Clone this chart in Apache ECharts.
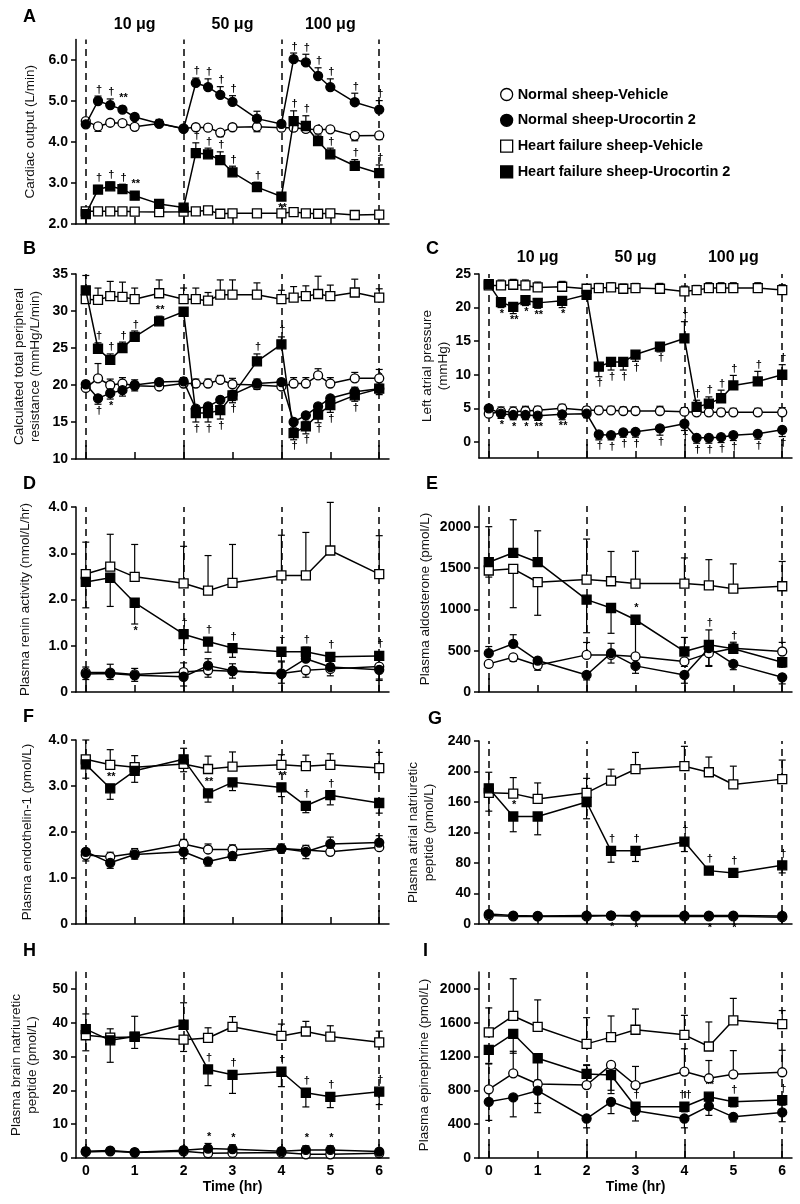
<!DOCTYPE html>
<html><head><meta charset="utf-8">
<script src="https://cdn.jsdelivr.net/npm/echarts@6/dist/echarts.min.js"></script>
<style>html,body{margin:0;padding:0;background:#fff}#c{width:800px;height:1204px}</style>
</head><body><div id="c"></div>
<script>
// ---------- DATA ----------
const NAMES = ['Normal sheep-Vehicle','Normal sheep-Urocortin 2','Heart failure sheep-Vehicle','Heart failure sheep-Urocortin 2'];
const tA = [0,0.25,0.5,0.75,1,1.5,2,2.25,2.5,2.75,3,3.5,4,4.25,4.5,4.75,5,5.5,6];
const tH = [0,0.5,1,2,2.5,3,4,4.5,5,6];
const X_TICKS = [0,1,2,3,4,5,6];
const DASH_TIMES = [0,2,4,6];
const DOSE_POS = [1,3,5];
const DOSE_LABELS = ['10 \u03bcg','50 \u03bcg','100 \u03bcg'];

// A: Cardiac output
const A_NV = [4.51,4.38,4.47,4.46,4.37,4.45,4.33,4.36,4.35,4.23,4.36,4.37,4.35,4.35,4.32,4.30,4.31,4.15,4.16];
const A_NV_err = [-0.08,-0.12,-0.05,-0.05,-0.05,-0.05,-0.05,-0.05,-0.05,-0.1,-0.05,-0.12,-0.08,-0.08,-0.08,-0.08,-0.05,-0.12,-0.1];
const A_NV_sig = [];
const A_NU = [4.43,5.00,4.90,4.79,4.61,4.45,4.32,5.44,5.34,5.15,4.98,4.57,4.44,6.02,5.94,5.61,5.34,4.97,4.79];
const A_NU_err = [0.05,0.12,0.15,0.08,0.05,0.1,0.05,0.12,0.2,0.2,0.15,0.18,0.05,0.15,0.2,0.2,0.2,0.22,0.22];
const A_NU_sig = ['','\u2020','\u2020','**','','','','\u2020','\u2020','\u2020','\u2020','','','\u2020','\u2020','\u2020','\u2020','\u2020','\u2020'];
const A_HV = [2.31,2.31,2.31,2.31,2.30,2.29,2.30,2.31,2.33,2.25,2.26,2.26,2.26,2.29,2.26,2.25,2.26,2.22,2.23];
const A_HV_err = [-0.06,-0.06,-0.06,-0.06,-0.06,-0.06,-0.06,-0.06,-0.06,-0.06,-0.06,-0.06,-0.06,-0.06,-0.06,-0.06,-0.06,-0.06,-0.06];
const A_HV_sig = [];
const A_HU = [2.24,2.84,2.92,2.85,2.69,2.49,2.40,3.73,3.70,3.56,3.26,2.90,2.67,4.51,4.39,4.02,3.70,3.42,3.24];
const A_HU_err = [0.05,0.1,0.1,0.12,0.1,0.05,0.05,0.25,0.15,0.2,0.15,0.12,-0.05,0.25,0.25,0.15,0.15,0.15,0.2];
const A_HU_sig = ['','\u2020','\u2020','\u2020','**','','','\u2020','\u2020','\u2020','\u2020','\u2020','**','\u2020','\u2020','\u2020','\u2020','\u2020','\u2020'];
const A_yTicks = [2,3,4,5,6];

// B: Total peripheral resistance
const B_NV = [19.6,20.9,20.0,20.2,19.9,19.8,20.2,20.2,20.2,20.7,20.1,20.0,19.8,20.2,20.2,21.3,20.2,20.9,20.9];
const B_NV_err = [0.6,2.0,0.8,0.8,0.8,0.8,0.8,0.6,0.6,0.6,0.8,0.8,0.8,0.8,0.8,0.9,0.8,0.8,1.2];
const B_NV_sig = [];
const B_NU = [20.1,18.2,18.9,19.3,20.0,20.4,20.5,16.8,17.1,18.0,18.7,20.2,20.4,15.0,15.9,17.1,18.2,19.1,19.5];
const B_NU_err = [-0.8,-0.8,-0.8,-0.8,-0.8,-0.6,-0.6,-0.8,-0.8,-0.8,-0.8,-0.8,-0.6,-0.8,-0.8,-0.8,-0.8,0.6,0.6];
const B_NU_sig = ['','\u2020','*','','','','','','','','','','','','','','','**','*'];
const B_HV = [31.6,31.5,32.0,31.9,31.6,32.4,31.6,31.6,31.4,32.2,32.2,32.2,31.6,31.8,32.0,32.3,32.0,32.5,31.8];
const B_HV_err = [1.5,1.6,2.0,2.0,1.5,1.8,1.5,1.5,1.1,2.0,2.0,1.6,1.2,1.5,1.4,2.4,1.5,1.8,1.2];
const B_HV_sig = [];
const B_HU = [32.8,24.9,23.4,25.0,26.5,28.6,29.9,16.2,16.2,16.6,18.6,23.2,25.5,13.5,14.4,16.0,17.3,18.6,19.5];
const B_HU_err = [2.0,0.8,0.8,0.8,0.8,0.7,0.5,-1.2,-1.2,-1.2,-1.0,1.0,1.0,-0.9,-1.0,-1.1,-1.0,-0.8,-0.8];
const B_HU_sig = ['','\u2020','\u2020','\u2020','\u2020','**','','\u2020','\u2020','\u2020','\u2020','\u2020','\u2020','\u2020','\u2020','\u2020','\u2020','\u2020',''];
const B_yTicks = [10,15,20,25,30,35];

// C: Left atrial pressure
const C_NV = [4.2,4.5,4.5,4.6,4.7,5.0,4.7,4.7,4.7,4.6,4.6,4.6,4.5,4.4,4.4,4.4,4.4,4.4,4.4];
const C_NV_err = [0.8,0.7,0.7,0.7,0.6,0.6,0.5,0.6,0.6,0.6,0.6,0.7,0.6,0.7,0.6,0.6,0.6,0.6,0.7];
const C_NV_sig = [];
const C_NU = [5.0,4.2,4.0,4.0,3.9,4.1,4.2,1.1,1.0,1.4,1.5,2.0,2.7,0.6,0.6,0.7,1.0,1.2,1.8];
const C_NU_err = [-0.8,-0.7,-0.7,-0.7,-0.7,-0.8,-0.6,-0.8,-0.7,-0.7,-0.8,-1.0,-1.0,-0.8,-0.8,-0.8,-0.8,-0.8,-1.0];
const C_NU_sig = ['','*','*','*','**','**','','\u2020','\u2020','\u2020','\u2020','\u2020','\u2020','\u2020','\u2020','\u2020','\u2020','\u2020','\u2020'];
const C_HV = [23.3,23.3,23.4,23.3,23.0,23.1,22.8,22.9,23.0,22.8,22.9,22.8,22.4,22.6,22.9,22.9,22.9,22.9,22.6];
const C_HV_err = [0.8,0.8,0.8,0.8,0.8,0.8,0.6,0.7,0.7,0.7,0.7,0.8,0.8,0.7,0.8,0.8,0.8,0.8,0.8];
const C_HV_sig = [];
const C_HU = [23.5,20.8,20.1,21.1,20.7,21.0,21.9,11.2,11.9,11.9,13.0,14.2,15.4,5.2,5.7,6.5,8.4,9.0,10.0];
const C_HU_err = [-0.8,-0.8,-1.0,-0.8,-0.8,-1.0,-0.5,-1.5,-1.2,-1.2,-1.0,-0.8,2.5,1.0,1.0,1.2,1.5,1.5,1.5];
const C_HU_sig = ['','*','**','*','**','*','','\u2020','\u2020','\u2020','\u2020','\u2020','\u2020','\u2020','\u2020','\u2020','\u2020','\u2020','\u2020'];
const C_yTicks = [0,5,10,15,20,25];

// D: Plasma renin activity
const D_NV = [0.42,0.42,0.38,0.43,0.47,0.45,0.40,0.47,0.50,0.55];
const D_NV_err = [-0.15,-0.15,-0.15,0.2,-0.15,-0.15,0.25,-0.15,-0.15,-0.3];
const D_NV_sig = [];
const D_NU = [0.39,0.40,0.36,0.33,0.57,0.46,0.39,0.72,0.54,0.48];
const D_NU_err = [0.15,0.2,0.15,-0.2,0.15,0.15,-0.2,0.25,0.15,-0.2];
const D_NU_sig = [];
const D_HV = [2.55,2.71,2.49,2.35,2.19,2.36,2.52,2.52,3.06,2.55];
const D_HV_err = [0.69,0.70,0.70,0.80,0.76,0.83,0.87,0.93,1.04,0.83];
const D_HV_sig = [];
const D_HU = [2.38,2.47,1.93,1.25,1.09,0.95,0.87,0.87,0.76,0.78];
const D_HU_err = [-0.56,-0.62,-0.46,-0.33,-0.23,-0.2,-0.2,-0.2,-0.15,-0.2];
const D_HU_sig = ['','','*','^\u2020','^\u2020','^\u2020','^\u2020','^\u2020','^\u2020','^\u2020'];
const D_yTicks = [0,1,2,3,4];

// E: Plasma aldosterone
const E_NV = [340,420,323,449,449,430,370,470,530,490];
const E_NV_err = [-40,-50,-60,150,140,-80,-60,-150,50,110];
const E_NV_sig = [];
const E_NU = [470,583,380,206,470,316,206,530,340,178];
const E_NU_err = [80,110,-60,-60,-120,-90,-100,-220,-70,-80];
const E_NU_sig = [];
const E_HV = [1470,1490,1328,1360,1340,1312,1312,1291,1250,1279];
const E_HV_err = [-80,-470,-400,490,360,390,310,310,300,300];
const E_HV_sig = [];
const E_HU = [1570,1684,1570,1117,1016,874,490,571,522,360];
const E_HU_err = [430,400,380,-400,-306,-420,170,180,80,-60];
const E_HU_sig = ['','','','','','^*','','\u2020','\u2020',''];
const E_yTicks = [0,500,1000,1500,2000];

// F: Plasma endothelin-1
const F_NV = [1.50,1.46,1.54,1.74,1.62,1.62,1.64,1.61,1.57,1.67];
const F_NV_err = [0.12,0.1,0.1,0.1,0.12,0.1,0.1,0.1,0.1,0.1];
const F_NV_sig = [];
const F_NU = [1.57,1.33,1.51,1.57,1.36,1.48,1.64,1.57,1.74,1.77];
const F_NU_err = [-0.2,-0.12,-0.1,-0.15,-0.1,-0.1,-0.1,-0.15,0.15,0.15];
const F_NU_sig = [];
const F_HV = [3.58,3.46,3.41,3.48,3.37,3.42,3.46,3.43,3.46,3.39];
const F_HV_err = [0.42,0.33,0.25,0.34,0.28,0.32,0.22,0.24,0.24,0.34];
const F_HV_sig = [];
const F_HU = [3.47,2.95,3.33,3.58,2.84,3.08,2.97,2.57,2.80,2.63];
const F_HU_err = [-0.30,-0.24,-0.25,-0.27,-0.19,-0.18,-0.2,-0.15,-0.21,-0.22];
const F_HU_sig = ['','^**','','','^**','^*','^**','^\u2020','^\u2020',''];
const F_yTicks = [0,1,2,3,4];

// G: Plasma ANP
const G_NV = [11,10,10,10,11,10,10,10,10,9];
const G_NV_err = [-3,-3,-3,-3,-4,-4,-3,-4,-4,-3];
const G_NV_sig = ['','','','','*','*','','*','*',''];
const G_NU = [13,11,10.5,11,11,11,11,11,11,10.5];
const G_NU_err = [3,2,2,2,2,2,2,2,2,2];
const G_NU_sig = [];
const G_HV = [172,171,164,172,188,203,207,199,183,190];
const G_HV_err = [-24,21,21,19,15,22,26,20,24,25];
const G_HV_sig = [];
const G_HU = [178,141,141,160,96,96,108,70,67,77];
const G_HU_err = [21,-20,-24,-22,-15,-14,-13,-5,-5,-10];
const G_HU_sig = ['','^*','','','^\u2020','^\u2020','^\u2020','^\u2020','^\u2020','^\u2020'];
const G_yTicks = [0,40,80,120,160,200,240];

// H: Plasma BNP
const H_NV = [1.8,2.0,1.6,2.0,1.4,1.5,1.6,1.1,1.1,1.4];
const H_NV_err = [-0.6,-0.5,-0.5,-0.5,-0.5,-0.5,-0.5,-0.5,-0.5,-0.5];
const H_NV_sig = [];
const H_NU = [2.0,2.2,1.7,2.3,2.8,2.6,2.0,2.4,2.4,1.9];
const H_NU_err = [1.0,0.8,0.8,1.0,1.5,1.3,1.0,1.2,1.2,0.8];
const H_NU_sig = ['','','','','*','*','','*','*',''];
const H_HV = [36.3,35.6,35.8,35.0,35.5,38.8,36.1,37.4,35.9,34.2];
const H_HV_err = [-4.6,2.6,-3.4,-3.5,3.0,3.0,3.5,3.0,3.2,3.3];
const H_HV_sig = [];
const H_HU = [38.1,34.8,35.9,39.4,26.2,24.6,25.5,19.3,18.1,19.6];
const H_HU_err = [4.5,-6.5,6.0,6.5,-4.8,-5.5,-4.4,-4.2,-3.2,-3.8];
const H_HU_sig = ['','','','','^\u2020','^\u2020','^\u2020','^\u2020','^\u2020','^\u2020'];
const H_yTicks = [0,10,20,30,40,50];

// I: Plasma epinephrine
const I_NV = [812,1002,875,863,1101,863,1022,943,990,1014];
const I_NV_err = [300,260,-230,240,-300,220,270,210,280,260];
const I_NV_sig = [];
const I_NU = [665,717,796,467,665,558,467,614,487,539];
const I_NU_err = [-220,-230,-260,-110,-140,-120,-110,-110,-60,-110];
const I_NU_sig = [];
const I_HV = [1485,1680,1550,1350,1430,1517,1457,1319,1628,1584];
const I_HV_err = [290,440,320,310,250,245,230,290,260,160];
const I_HV_sig = [];
const I_HU = [1279,1469,1180,994,982,606,606,725,665,685];
const I_HU_err = [-160,-230,-260,100,-220,-60,-60,-60,-60,-60];
const I_HU_sig = ['','','','','','^\u2020','^\u2020\u2020','^**','^\u2020','^\u2020'];
const I_yTicks = [0,400,800,1200,1600,2000];

// ---------- LAYOUT ----------
const FONT = '"Liberation Sans", Arial, Helvetica, sans-serif';
const panels = [
  {L:'A', lx:30, ly:18, grid:{left:76,top:39.5,width:313,height:184.5}, t:tA, yMin:2, yMax:6.5, ticks:A_yTicks, dec:1,
   name:'Cardiac output (L/min)', gap:38, dose:true, doseMargin:7, xl:false,
   d:[[A_NV,A_NV_err,A_NV_sig],[A_NU,A_NU_err,A_NU_sig],[A_HV,A_HV_err,A_HV_sig],[A_HU,A_HU_err,A_HU_sig]]},
  {L:'B', lx:30, ly:250, grid:{left:76,top:274,width:313,height:185}, t:tA, yMin:10, yMax:35, ticks:B_yTicks, dec:0,
   name:'Calculated total peripheral\nresistance (mmHg/L/min)', gap:33, dose:false, xl:false,
   d:[[B_NV,B_NV_err,B_NV_sig],[B_NU,B_NU_err,B_NU_sig],[B_HV,B_HV_err,B_HV_sig],[B_HU,B_HU_err,B_HU_sig]]},
  {L:'C', lx:433, ly:250, grid:{left:479,top:274,width:313,height:184}, t:tA, yMin:-2.4, yMax:25, ticks:C_yTicks, dec:0,
   name:'Left atrial pressure\n(mmHg)', gap:27, dose:true, doseMargin:8, xl:false,
   d:[[C_NV,C_NV_err,C_NV_sig],[C_NU,C_NU_err,C_NU_sig],[C_HV,C_HV_err,C_HV_sig],[C_HU,C_HU_err,C_HU_sig]]},
  {L:'D', lx:30, ly:485, grid:{left:76,top:507,width:313,height:185}, t:tH, yMin:0, yMax:4, ticks:D_yTicks, dec:1,
   name:'Plasma renin activity (nmol/L/hr)', gap:43, dose:false, xl:false,
   d:[[D_NV,D_NV_err,D_NV_sig],[D_NU,D_NU_err,D_NU_sig],[D_HV,D_HV_err,D_HV_sig],[D_HU,D_HU_err,D_HU_sig]]},
  {L:'E', lx:433, ly:485, grid:{left:479,top:506,width:313,height:186}, t:tH, yMin:0, yMax:2250, ticks:E_yTicks, dec:0,
   name:'Plasma aldosterone (pmol/L)', gap:46, dose:false, xl:false,
   d:[[E_NV,E_NV_err,E_NV_sig],[E_NU,E_NU_err,E_NU_sig],[E_HV,E_HV_err,E_HV_sig],[E_HU,E_HU_err,E_HU_sig]]},
  {L:'F', lx:30, ly:718, grid:{left:76,top:740,width:313,height:184}, t:tH, yMin:0, yMax:4, ticks:F_yTicks, dec:1,
   name:'Plasma endothelin-1 (pmol/L)', gap:41, dose:false, xl:false,
   d:[[F_NV,F_NV_err,F_NV_sig],[F_NU,F_NU_err,F_NU_sig],[F_HV,F_HV_err,F_HV_sig],[F_HU,F_HU_err,F_HU_sig]]},
  {L:'G', lx:435, ly:720, grid:{left:479,top:741,width:313,height:183}, t:tH, yMin:0, yMax:240, ticks:G_yTicks, dec:0,
   name:'Plasma atrial natriuretic\npeptide (pmol/L)', gap:42, dose:false, xl:false,
   d:[[G_NV,G_NV_err,G_NV_sig],[G_NU,G_NU_err,G_NU_sig],[G_HV,G_HV_err,G_HV_sig],[G_HU,G_HU_err,G_HU_sig]]},
  {L:'H', lx:30, ly:952, grid:{left:76,top:972,width:313,height:186}, t:tH, yMin:0, yMax:55, ticks:H_yTicks, dec:0,
   name:'Plasma brain natriuretic\npeptide (pmol/L)', gap:36, dose:false, xl:true,
   d:[[H_NV,H_NV_err,H_NV_sig],[H_NU,H_NU_err,H_NU_sig],[H_HV,H_HV_err,H_HV_sig],[H_HU,H_HU_err,H_HU_sig]]},
  {L:'I', lx:430, ly:952, grid:{left:479,top:972,width:313,height:186}, t:tH, yMin:0, yMax:2200, ticks:I_yTicks, dec:0,
   name:'Plasma epinephrine (pmol/L)', gap:47, dose:false, xl:true,
   d:[[I_NV,I_NV_err,I_NV_sig],[I_NU,I_NU_err,I_NU_sig],[I_HV,I_HV_err,I_HV_sig],[I_HU,I_HU_err,I_HU_sig]]}
];
const STY = [{symbol:'circle', fill:'#fff'},{symbol:'circle', fill:'#000'},{symbol:'rect', fill:'#fff'},{symbol:'rect', fill:'#000'}];
const BLACK = '#000';

function makeErr(sig){
  return function(params, api){
    const x = api.value(0), y = api.value(1), e = api.value(2);
    const p0 = api.coord([x, y]);
    const p1 = api.coord([x, y + e]);
    const ch = [];
    if (e) {
      ch.push({type:'line', shape:{x1:p0[0],y1:p0[1],x2:p1[0],y2:p1[1]}, style:{stroke:BLACK, lineWidth:1.2}});
      ch.push({type:'line', shape:{x1:p1[0]-3.5,y1:p1[1],x2:p1[0]+3.5,y2:p1[1]}, style:{stroke:BLACK, lineWidth:1.2}});
    }
    let s = sig[params.dataIndex] || '';
    if (s) {
      let up, yy;
      if (s[0] === '^') { s = s.slice(1); up = true; yy = (e > 0 ? Math.min(p1[1], p0[1]-5) : p0[1]-5) - 1; }
      else if (e >= 0) { up = true; yy = Math.min(p1[1], p0[1]-5) - 1; }
      else { up = false; yy = Math.max(p1[1], p0[1]+5) + 1; }
      ch.push({type:'text', style:{text:s, x:p0[0]+1, y:yy, align:'center', verticalAlign: up ? 'bottom' : 'top',
        font:'bold 11px ' + FONT, fill:BLACK}});
    }
    return {type:'group', children:ch};
  };
}

const grids = [], xAxes = [], yAxes = [], series = [], graphics = [];
panels.forEach((p, g) => {
  grids.push(Object.assign({containLabel:false}, p.grid));
  const xi = xAxes.length;
  xAxes.push({
    type:'value', gridIndex:g, min:-0.2, max:6.2, position:'bottom',
    axisLine:{show:true, onZero:false, lineStyle:{color:BLACK, width:1.5}},
    axisTick:{show:true, inside:true, length:7, customValues:X_TICKS, lineStyle:{color:BLACK, width:1.5}},
    axisLabel:{show:p.xl, customValues:X_TICKS, margin:6, color:BLACK, fontFamily:FONT, fontWeight:'bold', fontSize:14},
    splitLine:{show:false},
    name: p.xl ? 'Time (hr)' : '', nameLocation:'middle', nameGap:22,
    nameTextStyle:{color:BLACK, fontFamily:FONT, fontWeight:'bold', fontSize:14}
  });
  xAxes.push({
    type:'value', gridIndex:g, min:-0.2, max:6.2, position:'bottom',
    axisLine:{show:false, onZero:false}, axisLabel:{show:false}, splitLine:{show:false},
    axisTick:{show:true, inside:true, length:14, customValues:DASH_TIMES, lineStyle:{color:BLACK, width:1.5}}
  });
  if (p.dose) {
    xAxes.push({
      type:'value', gridIndex:g, min:-0.2, max:6.2, position:'top',
      axisLine:{show:false, onZero:false}, axisTick:{show:false}, splitLine:{show:false},
      axisLabel:{show:true, customValues:DOSE_POS, margin:p.doseMargin, color:BLACK, fontFamily:FONT, fontWeight:'bold', fontSize:16,
        formatter:(v) => DOSE_LABELS[DOSE_POS.indexOf(v)] || ''}
    });
  }
  yAxes.push({
    type:'value', gridIndex:g, min:p.yMin, max:p.yMax,
    axisLine:{show:true, onZero:false, lineStyle:{color:BLACK, width:1.5}},
    axisTick:{show:true, inside:false, length:5, customValues:p.ticks, lineStyle:{color:BLACK, width:1.5}},
    axisLabel:{customValues:p.ticks, margin:8, color:BLACK, fontFamily:FONT, fontWeight:'bold', fontSize:14,
      formatter:(v) => v === 0 ? '0' : v.toFixed(p.dec)},
    splitLine:{show:false},
    name:p.name, nameLocation:'middle', nameGap:p.gap, nameRotate:90,
    nameTextStyle:{color:'#111', fontFamily:FONT, fontSize:13.5, lineHeight:16, align:'center'}
  });
  p.d.forEach((grp, k) => {
    const vals = grp[0], err = grp[1], sig = grp[2];
    series.push({
      type:'custom', xAxisIndex:xi, yAxisIndex:g, silent:true, clip:false, z:1,
      data: p.t.map((x, i) => [x, vals[i], err[i] || 0]),
      encode:{x:0, y:1},
      renderItem: makeErr(sig)
    });
  });
  p.d.forEach((grp, k) => {
    const vals = grp[0];
    const s = {
      type:'line', name:NAMES[k], xAxisIndex:xi, yAxisIndex:g,
      data: p.t.map((x, i) => [x, vals[i]]),
      symbol:STY[k].symbol, symbolSize:9, showAllSymbol:true,
      itemStyle:{color:STY[k].fill, borderColor:BLACK, borderWidth:1.3},
      lineStyle:{color:BLACK, width:1.5}, z: 3 + (k % 2), silent:true
    };
    if (k === 0) {
      s.markLine = {silent:true, symbol:['none','none'], label:{show:false}, z:0,
        lineStyle:{type:[7,5], color:BLACK, width:1.5},
        data: DASH_TIMES.map(v => ({xAxis:v}))};
    }
    series.push(s);
  });
  graphics.push({type:'text', left:p.lx - 7, top:p.ly - 10,
    style:{text:p.L, font:'bold 18px ' + FONT, fill:BLACK}});
});

const chart = echarts.init(document.getElementById('c'), null, {renderer:'canvas'});
chart.setOption({
  backgroundColor:'#fff',
  animation:false,
  grid:grids, xAxis:xAxes, yAxis:yAxes, series:series, graphic:graphics,
  legend:{
    left:495, top:82, orient:'vertical', itemWidth:12, itemHeight:12, itemGap:10.8, itemStyle:{borderWidth:1.3},
    selectedMode:false,
    data: NAMES.map((n, k) => ({name:n, icon: k < 2 ? 'circle' : 'rect'})),
    textStyle:{color:BLACK, fontFamily:FONT, fontWeight:'bold', fontSize:14.5}
  }
});
</script></body></html>
